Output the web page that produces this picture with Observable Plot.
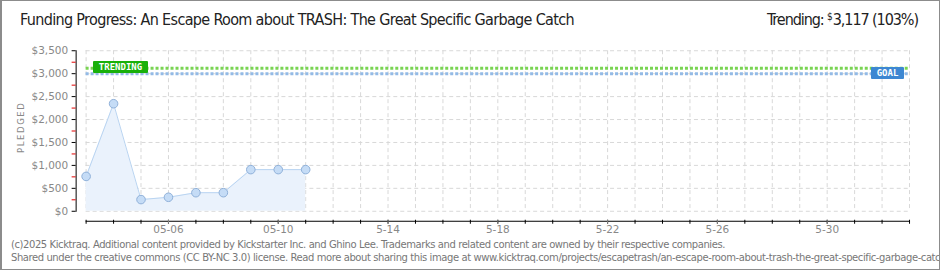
<!DOCTYPE html>
<html>
<head>
<meta charset="utf-8">
<script src="https://cdn.jsdelivr.net/npm/d3@7"></script>
<script src="https://cdn.jsdelivr.net/npm/@observablehq/plot@0.6"></script>
<style>
  html, body { margin: 0; padding: 0; background: #fff; }
  #wrap { position: relative; width: 940px; height: 270px; box-sizing: border-box;
          border: 1px solid #8c8c8c; border-left-width: 2px; overflow: hidden; background: #fff; }
  #chart { position: absolute; left: -2px; top: -1px; }
  .t { position: absolute; white-space: nowrap; }
  #title { left: 18px; top: 9px; font-family: "Liberation Sans Narrow", "DejaVu Sans Condensed", sans-serif; font-size: 16px; color: #222; }
  #trend { right: 21px; top: 9px; font-family: "Liberation Sans Narrow", "DejaVu Sans Condensed", sans-serif; font-size: 16px; color: #222; }
  #trend sup { font-size: 10px; vertical-align: 5px; margin-right: 1px; }
  .foot { left: 9px; font-family: "DejaVu Sans", sans-serif; font-size: 10px; color: #777; }
  #f1 { top: 238px; }
  #f2 { top: 251px; }
  #pledged { left: -4px; top: 124px; width: 46px; text-align: center; transform: rotate(-90deg);
             font-family: "DejaVu Sans", sans-serif; font-size: 8.5px; letter-spacing: 1.6px; color: #888; }
  .badge { position: absolute; color: #fff; font-family: "DejaVu Sans Mono", monospace; font-weight: bold;
           font-size: 9px; line-height: 12px; text-align: center; border-radius: 1px; }
  #tb { left: 91px; top: 60px; width: 55px; height: 12px; background: #19b00a; }
  #gb { left: 869px; top: 66px; width: 33px; height: 12px; background: #3d87d2; }
</style>
</head>
<body>
<div id="wrap">
  <div id="chart"></div>
  <div class="t" id="title">Funding Progress: An Escape Room about TRASH: The Great Specific Garbage Catch</div>
  <div class="t" id="trend">Trending: <sup>$</sup>3,117 (103%)</div>
  <div class="t" id="pledged">PLEDGED</div>
  <div class="badge" id="tb">TRENDING</div>
  <div class="badge" id="gb">GOAL</div>
  <div class="t foot" id="f1">(c)2025 Kicktraq. Additional content provided by Kickstarter Inc. and Ghino Lee. Trademarks and related content are owned by their respective companies.</div>
  <div class="t foot" id="f2">Shared under the creative commons (CC BY-NC 3.0) license. Read more about sharing this image at www.kicktraq.com/projects/escapetrash/an-escape-room-about-trash-the-great-specific-garbage-catch/</div>
</div>
<script>
// ---- data ----
const dates = ["2025-05-03","2025-05-04","2025-05-05","2025-05-06","2025-05-07","2025-05-08","2025-05-09","2025-05-10","2025-05-11"];
const pledged = [760, 2345, 255, 305, 405, 405, 908, 908, 908];
const goal = 3000;
const trending = 3117;
const xDomain = ["2025-05-03", "2025-06-02"];
const xTickDates = ["2025-05-06","2025-05-10","2025-05-14","2025-05-18","2025-05-22","2025-05-26","2025-05-30"];
const xTickLabels = ["05-06","05-10","5-14","5-18","5-22","5-26","5-30"];
const yTicks = [0, 500, 1000, 1500, 2000, 2500, 3000, 3500];
const yMinorTicks = [250, 750, 1250, 1750, 2250, 2750, 3250];

const parse = d3.utcParse("%Y-%m-%d");
const rows = dates.map((d, i) => ({date: parse(d), value: pledged[i]}));
const dayTicks = d3.utcDay.range(parse(xDomain[0]), d3.utcDay.offset(parse(xDomain[1]), 1));
const labelMap = new Map(xTickDates.map((d, i) => [+parse(d), xTickLabels[i]]));
const fmtY = v => "$" + d3.format(",")(v);

const chart = Plot.plot({
  width: 940,
  height: 270,
  marginLeft: 85.7,
  marginRight: 30,
  marginTop: 50.3,
  marginBottom: 59,
  style: {fontFamily: "DejaVu Sans, sans-serif", fontSize: "10.5px", color: "#888", background: "transparent"},
  x: {type: "utc", domain: xDomain.map(parse)},
  y: {domain: [0, 3500]},
  marks: [
    Plot.gridY(yTicks, {stroke: "#d8d8d8", strokeOpacity: 1, strokeDasharray: "4,3"}),
    Plot.gridX(dayTicks, {stroke: "#d8d8d8", strokeOpacity: 1, strokeDasharray: "4,3"}),
    Plot.areaY(rows, {x: "date", y: "value", fill: "#eaf2fc"}),
    Plot.lineY(rows, {x: "date", y: "value", stroke: "#b9d4f1", strokeWidth: 1}),
    Plot.ruleY([goal], {stroke: "#93bae6", strokeWidth: 3, strokeDasharray: "3,2"}),
    Plot.ruleY([trending], {stroke: "#79d452", strokeWidth: 3, strokeDasharray: "3,2"}),
    Plot.dot(rows, {x: "date", y: "value", r: 4.3, fill: "#c5dcf6", stroke: "#8fb0d8", strokeWidth: 1}),
    // y axis
    Plot.frame({anchor: "left", dx: -10, stroke: "#000"}),
    Plot.axisY(yTicks, {dx: -10, tickSize: 4, tickPadding: 4, stroke: "#000", fill: "#888", tickFormat: fmtY, label: null}),
    Plot.axisY(yMinorTicks, {dx: -10, tickSize: 4, stroke: "#e00000", text: null, label: null}),
    // x axis
    Plot.frame({anchor: "bottom", dy: 10, stroke: "#000"}),
    Plot.axisX(dayTicks, {dy: 9, tickSize: 4, stroke: "#000", text: null, label: null}),
    Plot.axisX(xTickDates.map(parse), {dy: 9, tickSize: 4, tickPadding: 1, fill: "#888", tickFormat: d => labelMap.get(+d), label: null})
  ]
});
document.getElementById("chart").appendChild(chart);

// fit text widths to the reference
function fit(id, target) {
  const el = document.getElementById(id);
  const w = el.getBoundingClientRect().width;
  const n = el.textContent.length;
  el.style.letterSpacing = ((target - w) / n) + "px";
  return (target - w) / n;
}
fit("title", 554);
fit("trend", 151);
const ls = fit("f1", 714);
document.getElementById("f2").style.letterSpacing = ls + "px";
</script>
</body>
</html>
